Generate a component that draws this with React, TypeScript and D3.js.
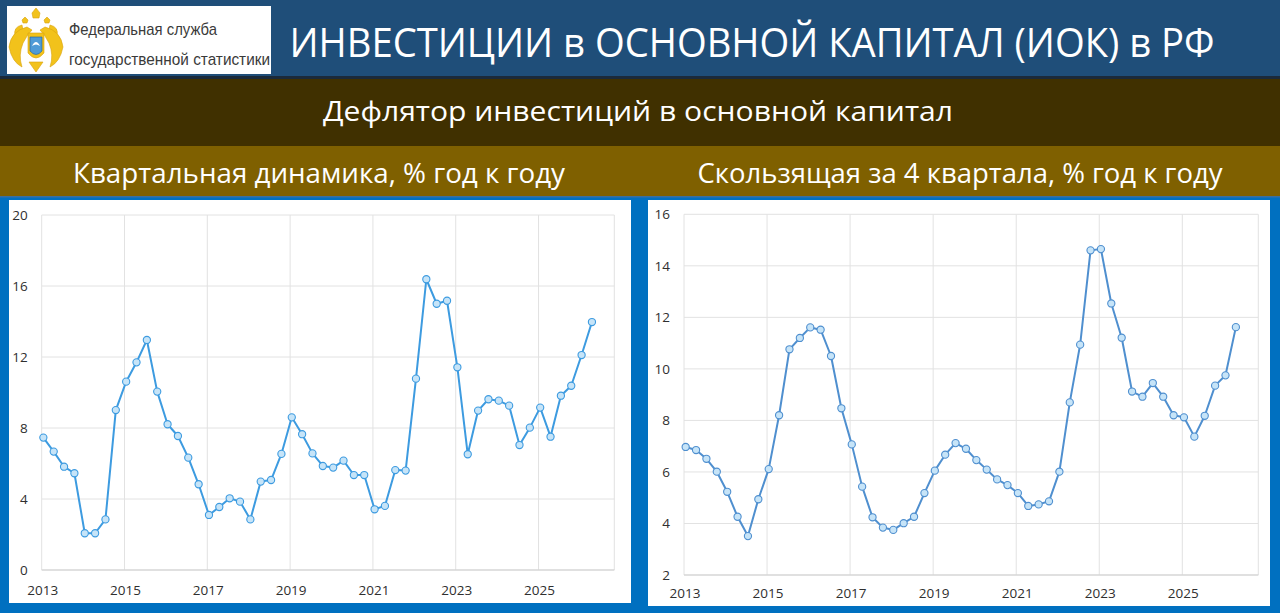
import * as d3 from "d3";

// quarterly y/y deflator, 2013Q1 .. 2026Q2
const quarters: string[] = [];
for (let y = 2013; y <= 2026; y++) {
  for (let q = 1; q <= 4; q++) {
    if (y === 2026 && q > 2) break;
    quarters.push(`${y}Q${q}`);
  }
}

const quarterlyValues = [
  7.46, 6.67, 5.82, 5.45, 2.07, 2.07, 2.85, 9.01,
  10.61, 11.7, 12.96, 10.05, 8.21, 7.55, 6.33, 4.83,
  3.1, 3.55, 4.04, 3.85, 2.85, 4.98, 5.07, 6.54,
  8.6, 7.65, 6.57, 5.86, 5.77, 6.16, 5.35, 5.35,
  3.42, 3.61, 5.63, 5.6, 10.78, 16.38, 15.0, 15.17,
  11.42, 6.52, 8.98, 9.62, 9.54, 9.26, 7.04, 8.02,
  9.15, 7.51, 9.82, 10.38, 12.11, 13.97,
];

const rollingValues = [
  6.97, 6.85, 6.51, 6.01, 5.23, 4.26, 3.51, 4.94,
  6.11, 8.2, 10.76, 11.2, 11.61, 11.52, 10.5, 8.47,
  7.07, 5.43, 4.24, 3.84, 3.75, 4.01, 4.26, 5.18,
  6.05, 6.67, 7.12, 6.9, 6.46, 6.09, 5.71, 5.49,
  5.18, 4.68, 4.74, 4.86, 6.01, 8.7, 10.94, 14.6,
  14.65, 12.54, 11.21, 9.12, 8.92, 9.45, 8.92, 8.2,
  8.12, 7.37, 8.18, 9.35, 9.75, 11.62,
];

const yearTicks = [2013, 2015, 2017, 2019, 2021, 2023, 2025];
const quarterlyTicks = [0, 4, 8, 12, 16, 20];
const rollingTicks = [2, 4, 6, 8, 10, 12, 14, 16];

const FONT = "'Open Sans', 'Noto Sans', sans-serif";
const NARROW = "'Liberation Sans Narrow', 'Arial Narrow', sans-serif";

// excel date axis: points sit ~2 weeks after quarter start
const quarterToYear = (q: string) => {
  const [y, n] = q.split("Q").map(Number);
  return y + (n - 1) / 4 + 0.04;
};

interface ChartProps {
  values: number[];
  ticks: number[];
  left: number;
  right: number;
  top: number;
  bottom: number;
  color: string;
  labelY: number;
}

function LineChart({ values, ticks, left, right, top, bottom, color, labelY }: ChartProps) {
  const x = d3.scaleLinear().domain([2013, 2026.83]).range([left, right]);
  const y = d3
    .scaleLinear()
    .domain([ticks[0], ticks[ticks.length - 1]])
    .range([bottom, top]);

  const pts = quarters.map((q, i) => [x(quarterToYear(q)), y(values[i])] as [number, number]);
  const line = d3.line();

  return (
    <g>
      {ticks.map((t) => (
        <line key={`h${t}`} x1={left} x2={right} y1={y(t)} y2={y(t)} stroke="#e2e2e2" strokeWidth={1} />
      ))}
      {yearTicks.map((yr) => (
        <line key={`v${yr}`} x1={x(yr)} x2={x(yr)} y1={top} y2={bottom} stroke="#e2e2e2" strokeWidth={1} />
      ))}
      <line x1={right} x2={right} y1={top} y2={bottom} stroke="#e2e2e2" />
      <line x1={left} x2={right} y1={bottom} y2={bottom} stroke="#cfcfcf" strokeWidth={1.2} />

      {ticks.map((t) => (
        <text key={`yl${t}`} x={left - 14} y={y(t) + 5} textAnchor="end" fontSize={13.5} fill="#2f2f2f" fontFamily={FONT}>
          {t}
        </text>
      ))}
      {yearTicks.map((yr) => (
        <text key={`xl${yr}`} x={x(yr) + 1} y={labelY} textAnchor="middle" fontSize={13.5} fill="#2f2f2f" fontFamily={FONT}>
          {yr}
        </text>
      ))}

      <path d={line(pts) ?? ""} fill="none" stroke={color} strokeWidth={2} strokeLinejoin="round" />
      {pts.map(([px, py], i) => (
        <circle key={i} cx={px} cy={py} r={3.6} fill="#c6e4f8" stroke={color} strokeWidth={1.1} />
      ))}
    </g>
  );
}

function Logo() {
  return (
    <g>
      <rect x={7} y={6} width={264} height={68} fill="#ffffff" />
      {/* simplified double-headed eagle */}
      <g fill="#f2c21b" stroke="#d9a20f" strokeWidth={0.6}>
        <path d="M32 13 l4 -5 l4 5 l-1 5 h-6 z" />
        <path d="M22 20 l3 -3 l3 3 l-1 3 h-4 z" />
        <path d="M44 20 l3 -3 l3 3 l-1 3 h-4 z" />
        <path d="M22 25 q-9 2 -7 11 q3 -5 8 -6 z" />
        <path d="M50 25 q9 2 7 11 q-3 -5 -8 -6 z" />
        <path d="M27 27 q-16 4 -18 20 q3 15 13 20 q-4 -12 1 -24 q4 -8 9 -13 z" />
        <path d="M45 27 q16 4 18 20 q-3 15 -13 20 q4 -12 -1 -24 q-4 -8 -9 -13 z" />
        <path d="M28 33 h16 v20 q-8 10 -16 0 z" />
        <path d="M29 62 l7 10 l7 -10 z" />
      </g>
      <path d="M30 37 h12 v14 q-6 7 -12 0 z" fill="#4f9bd6" stroke="#1f5f99" strokeWidth={0.6} />
      <path d="M32 46 q4 -8 8 0 q-4 -3 -8 0 z" fill="#ffffff" />
      <text x={69} y={35} fontSize={17} fill="#3a3a3a" fontFamily={NARROW} textLength={148} lengthAdjust="spacingAndGlyphs">
        Федеральная служба
      </text>
      <text x={69} y={65} fontSize={17} fill="#3a3a3a" fontFamily={NARROW} textLength={201} lengthAdjust="spacingAndGlyphs">
        государственной статистики
      </text>
    </g>
  );
}

export default function App() {
  return (
    <svg
      width={1280}
      height={613}
      style={{ position: "fixed", left: 0, top: 0, display: "block" }}
      xmlns="http://www.w3.org/2000/svg"
    >
      {/* header bands */}
      <rect x={0} y={0} width={1280} height={613} fill="#0070c0" />
      <rect x={0} y={0} width={1280} height={78} fill="#1f4e79" />
      <rect x={0} y={76} width={1280} height={3} fill="#1b2a3a" />
      <rect x={0} y={79} width={1280} height={67} fill="#403000" />
      <rect x={0} y={146} width={1280} height={51} fill="#7f6000" />
      <rect x={0} y={196} width={1280} height={1.5} fill="#3a6f9f" />

      <Logo />
      <text x={752} y={57} textAnchor="middle" fontSize={40} fill="#ffffff" fontFamily={FONT} textLength={925} lengthAdjust="spacingAndGlyphs">
        ИНВЕСТИЦИИ в ОСНОВНОЙ КАПИТАЛ (ИОК) в РФ
      </text>
      <text x={638} y={121} textAnchor="middle" fontSize={28} fill="#ffffff" fontFamily={FONT} textLength={630} lengthAdjust="spacingAndGlyphs">
        Дефлятор инвестиций в основной капитал
      </text>
      <text x={319} y={183} textAnchor="middle" fontSize={28} fill="#ffffff" fontFamily={FONT} textLength={492} lengthAdjust="spacingAndGlyphs">
        Квартальная динамика, % год к году
      </text>
      <text x={960} y={183} textAnchor="middle" fontSize={28} fill="#ffffff" fontFamily={FONT} textLength={525} lengthAdjust="spacingAndGlyphs">
        Скользящая за 4 квартала, % год к году
      </text>

      {/* chart panels */}
      <rect x={9} y={200} width={622} height={403} fill="#ffffff" />
      <rect x={648} y={200} width={622} height={406} fill="#ffffff" />

      <LineChart
        values={quarterlyValues}
        ticks={quarterlyTicks}
        left={41.7}
        right={614.3}
        top={215}
        bottom={570}
        color="#3d9be0"
        labelY={595}
      />
      <LineChart
        values={rollingValues}
        ticks={rollingTicks}
        left={684}
        right={1258.3}
        top={214.3}
        bottom={575}
        color="#4f8fcf"
        labelY={598}
      />
    </svg>
  );
}
